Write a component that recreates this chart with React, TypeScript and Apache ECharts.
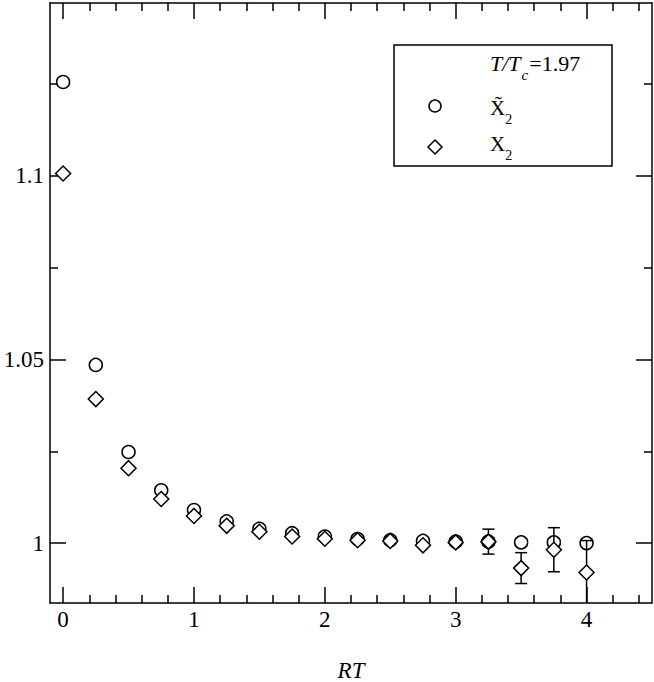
import React, { useEffect, useRef } from "react";
import * as echarts from "echarts";

const xValues = [0, 0.25, 0.5, 0.75, 1, 1.25, 1.5, 1.75, 2, 2.25, 2.5, 2.75, 3, 3.25, 3.5, 3.75, 4];
const xTildeValues = [1.1255, 1.0485, 1.0248, 1.0144, 1.009, 1.0059, 1.0039, 1.0027, 1.0018, 1.0011, 1.0008, 1.0006, 1.0004, 1.0004, 1.0002, 1.0002, 1.0];
const x2Values = [1.1006, 1.0392, 1.0204, 1.012, 1.0074, 1.0047, 1.0031, 1.0018, 1.0012, 1.0008, 1.0006, 0.9994, 1.0002, 1.0004, 0.9932, 0.9982, 0.992];
const x2Errors = [0, 0, 0, 0, 0, 0, 0, 0, 0, 0, 0, 0, 0, 0.0034, 0.0042, 0.006, 0.0087];

const xMajorTicks = [0, 1, 2, 3, 4];
const xMinorTicks = [0.2, 0.4, 0.6, 0.8, 1.2, 1.4, 1.6, 1.8, 2.2, 2.4, 2.6, 2.8, 3.2, 3.4, 3.6, 3.8, 4.2, 4.4];
const yMajorTicks = [1, 1.05, 1.1];
const yMinorTicks = [1.025, 1.075, 1.125];

const X_MIN = -0.1;
const X_MAX = 4.5;
const Y_MIN = 0.9837;
const Y_MAX = 1.147;

const legendTitle = { italic: "T/T", sub: "c", rest: "=1.97" };
const legendNames = { tilde: "X\u0303", x2: "X", sub: "2" };

const FONT = "Liberation Serif";
const BLACK = "#000";
const LW = 1.5;

function measure(text: string, size: number, italic = false) {
  const c = document.createElement("canvas").getContext("2d");
  if (!c) return text.length * size * 0.5;
  c.font = `${italic ? "italic " : ""}${size}px "${FONT}"`;
  return c.measureText(text).width;
}

// place text so that its alphabetic baseline sits at `baseline`
function txt(text: string, x: number, baseline: number, size: number, italic = false, align = "left") {
  return {
    type: "text",
    z: 100,
    style: {
      text,
      x,
      y: baseline - 0.3375 * size,
      fontSize: size,
      fontFamily: FONT,
      fontStyle: italic ? "italic" : "normal",
      fill: BLACK,
      align,
      verticalAlign: "middle",
    },
  };
}

function xAxis(position: string, ticks: number[], len: number, showLine: boolean, showLabel: boolean) {
  return {
    type: "value",
    position,
    min: X_MIN,
    max: X_MAX,
    axisLine: { show: showLine, onZero: false, lineStyle: { color: BLACK, width: LW } },
    axisTick: { show: true, inside: true, length: len, customValues: ticks, lineStyle: { color: BLACK, width: LW } },
    axisLabel: {
      show: showLabel,
      customValues: ticks,
      margin: 5,
      color: BLACK,
      fontSize: 23,
      fontFamily: FONT,
    },
    splitLine: { show: false },
  };
}

function yAxis(position: string, ticks: number[], len: number, showLine: boolean, showLabel: boolean) {
  return {
    type: "value",
    position,
    min: Y_MIN,
    max: Y_MAX,
    axisLine: { show: showLine, onZero: false, lineStyle: { color: BLACK, width: LW } },
    axisTick: { show: true, inside: true, length: len, customValues: ticks, lineStyle: { color: BLACK, width: LW } },
    axisLabel: {
      show: showLabel,
      customValues: ticks,
      margin: 6,
      color: BLACK,
      fontSize: 23,
      fontFamily: FONT,
    },
    splitLine: { show: false },
  };
}

export default function App() {
  const ref = useRef<HTMLDivElement>(null);

  useEffect(() => {
    if (!ref.current) return;
    const chart = echarts.init(ref.current, null, { renderer: "svg" });

    const tildeData = xValues.map((x, i) => [x, xTildeValues[i]]);
    const x2Data = xValues.map((x, i) => [x, x2Values[i]]);
    const errData = xValues.map((x, i) => [x, x2Values[i], x2Errors[i]]);

    // legend layout
    const tx = 490;
    const w1 = measure(legendTitle.italic, 22, true);
    const w2 = measure(legendTitle.sub, 15, true);
    const wX = measure("X", 21);

    const graphic: any[] = [
      {
        type: "rect",
        z: 90,
        shape: { x: 394, y: 45, width: 218, height: 121 },
        style: { fill: "#fff", stroke: BLACK, lineWidth: LW },
      },
      txt(legendTitle.italic, tx, 71, 22, true),
      txt(legendTitle.sub, tx + w1 + 1, 80, 15, true),
      txt(legendTitle.rest, tx + w1 + w2 + 2, 71, 22, false),
      {
        type: "circle",
        z: 100,
        shape: { cx: 435, cy: 106, r: 6 },
        style: { fill: "#fff", stroke: BLACK, lineWidth: LW },
      },
      txt(legendNames.tilde, tx, 115, 21),
      txt(legendNames.sub, tx + wX, 124, 14),
      {
        type: "polygon",
        z: 100,
        shape: { points: [[435, 140], [442, 147], [435, 154], [428, 147]] },
        style: { fill: "#fff", stroke: BLACK, lineWidth: LW },
      },
      txt(legendNames.x2, tx, 150.7, 21),
      txt(legendNames.sub, tx + wX, 160, 14),
    ];

    const bottomMain: any = xAxis("bottom", xMajorTicks, 16, true, true);
    bottomMain.name = "RT";
    bottomMain.nameLocation = "middle";
    bottomMain.nameGap = 56;
    bottomMain.nameTextStyle = { fontSize: 23, fontFamily: FONT, fontStyle: "italic", color: BLACK };

    chart.setOption({
      animation: false,
      backgroundColor: "#fff",
      grid: { left: 50, right: 2, top: 3, bottom: 79, containLabel: false, outerBoundsMode: "none" },
      xAxis: [
        bottomMain,
        xAxis("bottom", xMinorTicks, 8, false, false),
        xAxis("top", xMajorTicks, 16, true, false),
        xAxis("top", xMinorTicks, 8, false, false),
      ],
      yAxis: [
        yAxis("left", yMajorTicks, 16, true, true),
        yAxis("left", yMinorTicks, 8, false, false),
        yAxis("right", yMajorTicks, 16, true, false),
        yAxis("right", yMinorTicks, 8, false, false),
      ],
      series: [
        {
          name: "X̃2",
          type: "scatter",
          xAxisIndex: 0,
          yAxisIndex: 0,
          z: 2,
          symbol: "circle",
          symbolSize: 13,
          itemStyle: { color: "#fff", borderColor: BLACK, borderWidth: LW, opacity: 1 },
          data: tildeData,
        },
        {
          name: "err",
          type: "custom",
          xAxisIndex: 0,
          yAxisIndex: 0,
          z: 3,
          silent: true,
          data: errData,
          renderItem: (params: any, api: any) => {
            const x = api.value(0);
            const y = api.value(1);
            const e = api.value(2);
            if (!e) return { type: "group", children: [] };
            const top = api.coord([x, y + e]);
            const bot = api.coord([x, y - e]);
            const cs = params.coordSys;
            const yLimit = cs.y + cs.height;
            const clipped = bot[1] > yLimit;
            const by = Math.min(bot[1], yLimit);
            const hw = 6;
            const style = { stroke: BLACK, lineWidth: LW };
            const children: any[] = [
              { type: "line", shape: { x1: top[0], y1: top[1], x2: top[0], y2: by }, style },
              { type: "line", shape: { x1: top[0] - hw, y1: top[1], x2: top[0] + hw, y2: top[1] }, style },
            ];
            if (!clipped) {
              children.push({ type: "line", shape: { x1: bot[0] - hw, y1: bot[1], x2: bot[0] + hw, y2: bot[1] }, style });
            }
            return { type: "group", children };
          },
        },
        {
          name: "X2",
          type: "scatter",
          xAxisIndex: 0,
          yAxisIndex: 0,
          z: 4,
          symbol: "diamond",
          symbolSize: [15, 15],
          itemStyle: { color: "#fff", borderColor: BLACK, borderWidth: LW, opacity: 1 },
          data: x2Data,
        },
      ],
      graphic,
    });

    return () => chart.dispose();
  }, []);

  return (
    <div
      ref={ref}
      style={{ position: "absolute", left: 0, top: 0, width: 654, height: 682, background: "#fff" }}
    />
  );
}
